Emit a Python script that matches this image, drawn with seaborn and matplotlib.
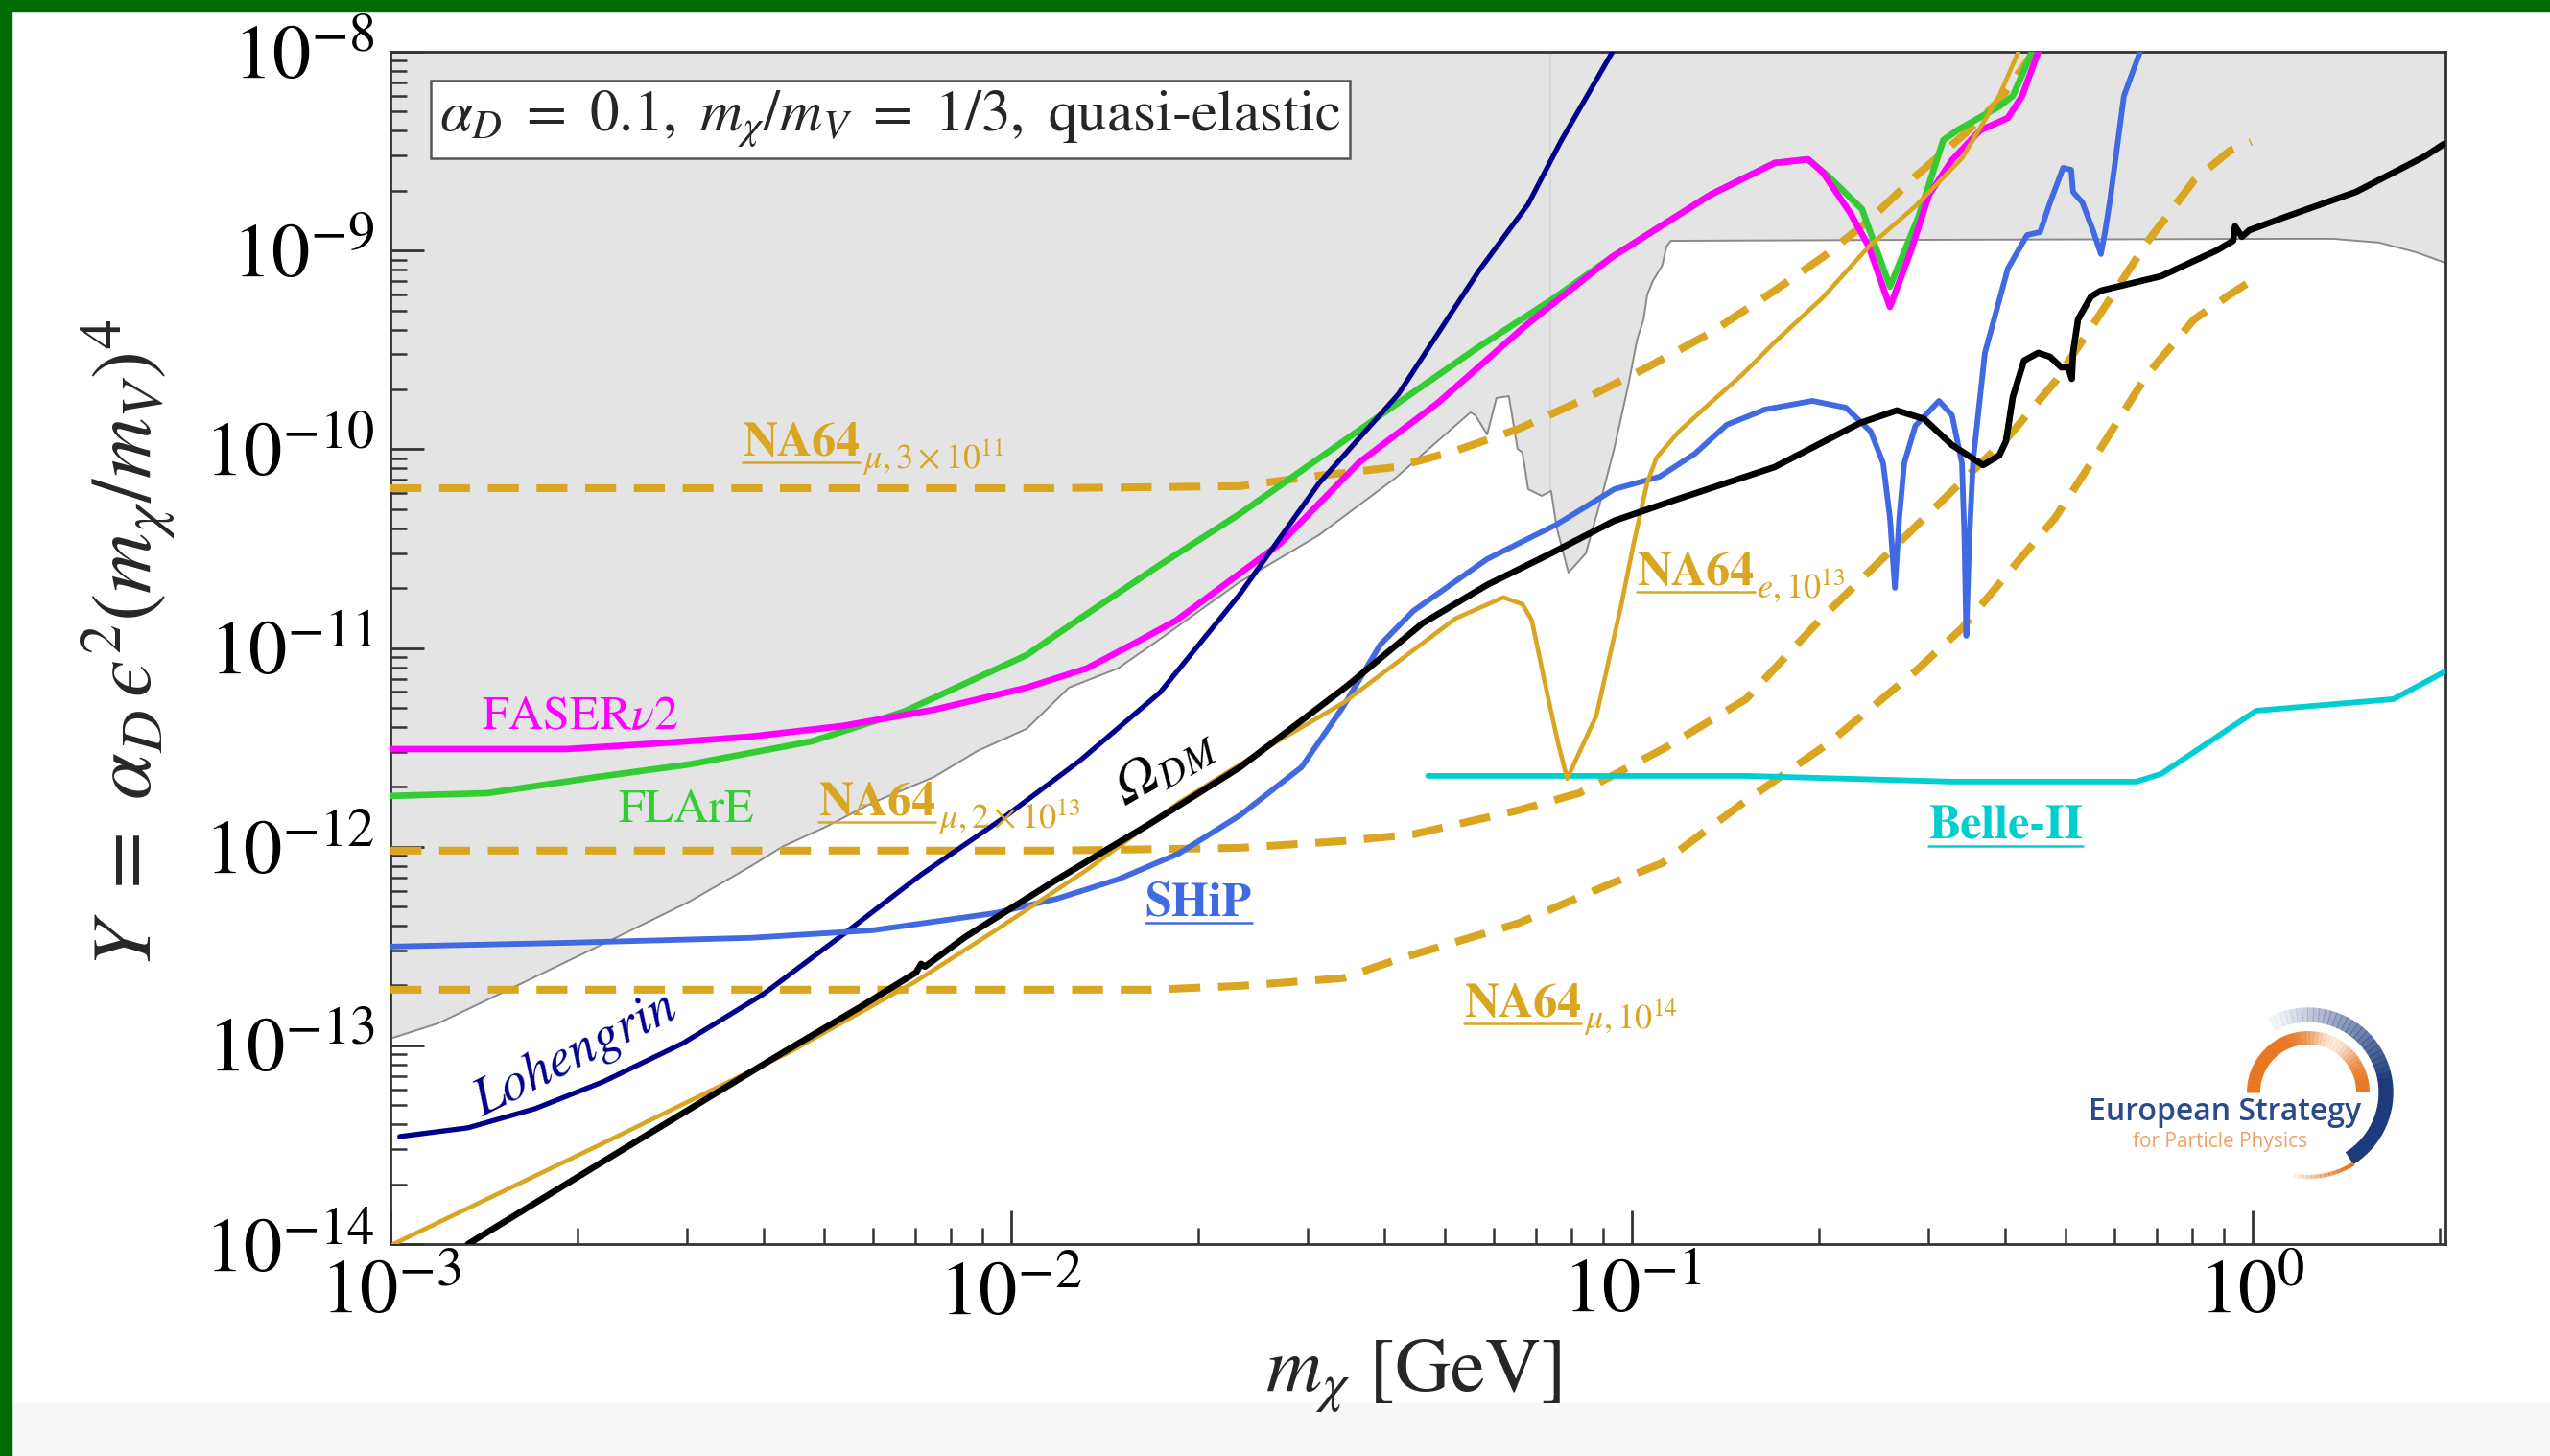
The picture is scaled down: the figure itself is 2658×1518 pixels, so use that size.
import numpy as np
import matplotlib.pyplot as plt
import matplotlib.ticker as mticker
import seaborn as sns
from matplotlib.patches import Rectangle, Arc
from matplotlib.lines import Line2D
from matplotlib.transforms import IdentityTransform

sns.set_style("ticks")
plt.rcParams['font.family'] = ['STIXGeneral', 'DejaVu Sans']
plt.rcParams['mathtext.fontset'] = 'stix'
plt.rcParams['axes.linewidth'] = 2.0
plt.rcParams['axes.edgecolor'] = '#333333'

# all curves, stored as log10(m_chi [GeV]) and log10(Y)
bound_lm = [-3.000, -2.923, -2.813, -2.666, -2.518, -2.419, -2.369, -2.301, -2.223, -2.124, -2.054, -1.975,
            -1.907, -1.828, -1.768, -1.632, -1.504, -1.380, -1.260, -1.252, -1.233, -1.218, -1.198, -1.184,
            -1.176, -1.167, -1.145, -1.130, -1.121, -1.102, -1.074, -1.048, -1.028, -1.006, -0.991, -0.981,
            -0.975, -0.966, -0.951, -0.944, -0.937, -0.538, 0.054, 0.130, 0.204, 0.264, 0.311]
bound_lY = [-12.966, -12.889, -12.725, -12.503, -12.276, -12.098, -12.001, -11.904, -11.779, -11.649, -11.518,
            -11.407, -11.200, -11.103, -10.973, -10.669, -10.432, -10.143, -9.815, -9.829, -9.926, -9.742,
            -9.733, -9.998, -10.017, -10.201, -10.235, -10.210, -10.394, -10.621, -10.524, -10.235, -9.993,
            -9.684, -9.443, -9.347, -9.221, -9.153, -9.076, -8.980, -8.951, -8.946, -8.941, -8.941, -8.960,
            -9.009, -9.062]
edge_m = 0.074
edge_Y = 6.2e-11

faser_lm = [-3.000, -2.716, -2.567, -2.419, -2.272, -2.124, -1.975, -1.878, -1.799, -1.734, -1.567, -1.439,
            -1.312, -1.170, -1.032, -0.873, -0.770, -0.716, -0.692, -0.648, -0.618, -0.584, -0.550, -0.521,
            -0.484, -0.439, -0.394, -0.371, -0.345]
faser_lY = [-11.509, -11.509, -11.480, -11.446, -11.393, -11.311, -11.200, -11.103, -10.973, -10.862, -10.476,
            -10.066, -9.766, -9.375, -9.033, -8.719, -8.560, -8.541, -8.608, -8.811, -8.980, -9.284, -8.999,
            -8.719, -8.545, -8.396, -8.333, -8.222, -8.000]

flare_lm = [-3.000, -2.844, -2.666, -2.518, -2.321, -2.173, -2.065, -1.975, -1.889, -1.760, -1.632, -1.504,
            -1.376, -1.247, -1.130, -1.032, -0.873, -0.770, -0.716, -0.683, -0.629, -0.584, -0.538, -0.498,
            -0.476, -0.408, -0.386, -0.355]
flare_lY = [-11.745, -11.731, -11.649, -11.586, -11.470, -11.321, -11.166, -11.036, -10.852, -10.582, -10.326,
            -10.046, -9.766, -9.486, -9.250, -9.033, -8.719, -8.560, -8.541, -8.627, -8.792, -9.182, -8.830,
            -8.444, -8.396, -8.275, -8.222, -8.000]

loh_lm = [-2.985, -2.875, -2.767, -2.657, -2.529, -2.400, -2.274, -2.145, -2.017, -1.889, -1.760, -1.632,
          -1.504, -1.376, -1.247, -1.167, -1.114, -1.031]
loh_lY = [-13.459, -13.415, -13.319, -13.183, -12.990, -12.744, -12.450, -12.141, -11.866, -11.567, -11.224,
          -10.732, -10.172, -9.723, -9.105, -8.767, -8.449, -8.000]

ship_lm = [-3.000, -2.716, -2.419, -2.223, -2.025, -1.926, -1.828, -1.730, -1.631, -1.532, -1.465, -1.405,
           -1.352, -1.233, -1.121, -1.028, -0.955, -0.898, -0.847, -0.785, -0.709, -0.655, -0.615, -0.595,
           -0.584, -0.576, -0.569, -0.561, -0.543, -0.505, -0.484, -0.468, -0.464, -0.461, -0.456, -0.450,
           -0.431, -0.394, -0.363, -0.342, -0.326, -0.305, -0.292, -0.289, -0.274, -0.257, -0.244, -0.237,
           -0.229, -0.207, -0.181]
ship_lY = [-12.503, -12.484, -12.459, -12.421, -12.334, -12.262, -12.165, -12.035, -11.842, -11.600, -11.296,
           -10.983, -10.814, -10.553, -10.379, -10.201, -10.138, -10.022, -9.877, -9.800, -9.757, -9.791,
           -9.911, -10.070, -10.346, -10.698, -10.346, -10.070, -9.882, -9.757, -9.829, -10.070, -10.442,
           -10.939, -10.442, -10.056, -9.515, -9.091, -8.922, -8.907, -8.758, -8.584, -8.594, -8.705, -8.758,
           -8.898, -9.018, -8.898, -8.738, -8.222, -8.000]

relic_lm = [-2.875, -2.657, -2.369, -2.243, -2.153, -2.145, -2.139, -2.074, -1.926, -1.779, -1.631, -1.458,
            -1.337, -1.233, -1.130, -1.028, -0.924, -0.770, -0.683, -0.632, -0.573, -0.529, -0.484, -0.434,
            -0.408, -0.397, -0.386, -0.368, -0.345, -0.326, -0.308, -0.297, -0.291, -0.289, -0.281, -0.260,
            -0.244, -0.147, -0.057, -0.031, -0.028, -0.017, -0.005, 0.054, 0.167, 0.278, 0.309]
relic_lY = [-14.000, -13.584, -13.039, -12.807, -12.633, -12.590, -12.604, -12.455, -12.165, -11.890, -11.600,
            -11.190, -10.876, -10.683, -10.524, -10.360, -10.249, -10.090, -9.950, -9.868, -9.805, -9.848,
            -9.979, -10.080, -10.032, -9.959, -9.737, -9.554, -9.515, -9.535, -9.588, -9.588, -9.646, -9.515,
            -9.347, -9.231, -9.202, -9.129, -8.999, -8.951, -8.878, -8.931, -8.898, -8.830, -8.705, -8.526,
            -8.463]

na64e_lm = [-2.995, -2.657, -2.360, -2.153, -2.025, -1.878, -1.730, -1.581, -1.465, -1.284, -1.207, -1.176,
            -1.161, -1.138, -1.119, -1.104, -1.057, -1.017, -0.997, -0.975, -0.960, -0.924, -0.873, -0.821,
            -0.770, -0.692, -0.618, -0.543, -0.468, -0.408, -0.377]
na64e_lY = [-14.000, -13.492, -13.039, -12.677, -12.421, -12.117, -11.779, -11.489, -11.277, -10.852, -10.746,
            -10.780, -10.862, -11.205, -11.475, -11.658, -11.340, -10.785, -10.476, -10.167, -10.042, -9.911,
            -9.766, -9.622, -9.462, -9.236, -8.980, -8.777, -8.536, -8.222, -8.000]

mu3e11_lm = [-3.000, -1.929, -1.632, -1.504, -1.380, -1.284, -1.182, -1.079, -0.975, -0.873, -0.770, -0.692,
             -0.618, -0.543, -0.468, -0.408, -0.352]
mu3e11_lY = [-10.196, -10.196, -10.186, -10.133, -10.090, -10.008, -9.897, -9.752, -9.588, -9.414, -9.202,
             -9.033, -8.849, -8.627, -8.425, -8.246, -8.000]

mu2e13_lm = [-3.000, -1.929, -1.631, -1.465, -1.352, -1.184, -1.085, -0.947, -0.816, -0.692, -0.595, -0.468,
             -0.394, -0.318, -0.244, -0.170, -0.094, -0.036, -0.002]
mu2e13_lY = [-12.020, -12.020, -12.006, -11.972, -11.938, -11.818, -11.731, -11.504, -11.258, -10.843, -10.548,
             -10.162, -9.940, -9.660, -9.313, -8.960, -8.647, -8.497, -8.454]

mu1e14_lm = [-3.000, -1.774, -1.632, -1.465, -1.376, -1.184, -1.032, -0.951, -0.816, -0.683, -0.543, -0.468,
             -0.394, -0.318, -0.244, -0.170, -0.094, -0.036, -0.002]
mu1e14_lY = [-12.720, -12.720, -12.701, -12.662, -12.566, -12.387, -12.184, -12.083, -11.769, -11.480, -11.118,
             -10.901, -10.625, -10.346, -9.993, -9.626, -9.347, -9.221, -9.153]

belle_lm = [-1.328, -0.816, -0.482, -0.187, -0.147, 0.006, 0.227, 0.311]
belle_lY = [-11.644, -11.644, -11.673, -11.673, -11.634, -11.316, -11.258, -11.118]

x_decades = [-3, -2, -1, 0]
y_decades = [-14, -13, -12, -11, -10, -9, -8]

GOLD = '#DAA520'
DASH = [4.0, 2.3]

fig = plt.figure(figsize=(26.58, 15.18), dpi=100)
ax = fig.add_axes([407/2658, 221/1518, 2142/2658, 1243/1518])
ax.set_xscale('log')
ax.set_yscale('log')
ax.set_axisbelow(False)


def curve(lm, lY, color, lw, dashes=None, z=3):
    sns.lineplot(x=10**np.array(lm), y=10**np.array(lY), color=color, linewidth=lw,
                 sort=False, estimator=None, ax=ax, zorder=z)
    ln = ax.lines[-1]
    if dashes is not None:
        ln.set_dashes(dashes)
    return ln


# excluded region
ax.fill_between(10**np.array(bound_lm), 10**np.array(bound_lY), 1e-7, color='#e4e4e4', lw=0, zorder=0.2)
ax.plot([edge_m, edge_m], [edge_Y, 1e-7], color='#d2d2d2', lw=1.2, zorder=0.3)
curve(bound_lm, bound_lY, '#8a8a8a', 1.4, z=2)

curve(mu3e11_lm, mu3e11_lY, GOLD, 5.8, DASH, z=3)
curve(mu2e13_lm, mu2e13_lY, GOLD, 5.8, DASH, z=3)
curve(mu1e14_lm, mu1e14_lY, GOLD, 5.8, DASH, z=3)
curve(belle_lm, belle_lY, '#00CED1', 4.2, z=4)
curve(flare_lm, flare_lY, '#33CC33', 4.8, z=4)
curve(faser_lm, faser_lY, '#FF00FF', 4.8, z=4.5)
curve(loh_lm, loh_lY, '#00008B', 3.8, z=5)
curve(ship_lm, ship_lY, '#4169E1', 4.2, z=5)
curve(na64e_lm, na64e_lY, GOLD, 3.3, z=5.5)
curve(relic_lm, relic_lY, 'black', 4.8, z=6)

ax.set_xlim(1e-3, 10**0.311)
ax.set_ylim(1e-14, 1e-8)

xminor = [k*10.0**d for d in x_decades for k in range(2, 10) if k*10.0**d <= 2.0]
yminor = [k*10.0**d for d in y_decades[:-1] for k in range(2, 10)]
ax.xaxis.set_major_locator(mticker.FixedLocator([10.0**d for d in x_decades]))
ax.yaxis.set_major_locator(mticker.FixedLocator([10.0**d for d in y_decades]))
ax.xaxis.set_minor_locator(mticker.FixedLocator(xminor))
ax.yaxis.set_minor_locator(mticker.FixedLocator(yminor))
for axis in [ax.xaxis, ax.yaxis]:
    axis.set_major_formatter(mticker.LogFormatterSciNotation())
    axis.set_minor_formatter(mticker.NullFormatter())
    axis.set_zorder(2.6)
ax.tick_params(which='both', direction='in', top=False, right=False, labelcolor='black')
ax.tick_params(which='major', length=25, width=2.0, labelsize=58, pad=12)
ax.tick_params(which='minor', length=12, width=1.8)
ax.tick_params(axis='x', which='both', color='#333333')
ax.tick_params(axis='y', which='both', left=True, color='#333333')

ax.set_xlabel(r"$m_\chi$ [GeV]", fontsize=58)
ax.xaxis.set_label_coords(0.4977, -0.078)
ax.set_ylabel(r"$Y\ =\ \alpha_D\,ϵ^2(m_\chi/m_V)^4$", fontsize=63)
ax.yaxis.set_label_coords(-0.103, 0.504)

ax.text(0.0238, 0.9433, r"$\alpha_D\ =\ 0.1,\ m_\chi/m_V\ =\ 1/3,$ quasi-elastic", transform=ax.transAxes,
        fontsize=44, ha='left', va='center', zorder=10,
        bbox=dict(boxstyle='square,pad=0.15', fc='white', ec='#555555', lw=1.8))

under = []


def tag(mx, my, main, sub, color, bold=True, underline=True, size=36):
    t = ax.text(mx, my, main, color=color, fontsize=size, fontweight='bold' if bold else 'normal',
                ha='left', va='baseline', zorder=8)
    if sub:
        ax.annotate(sub, xy=(1, 0), xycoords=t, xytext=(2, -2), textcoords='offset points',
                    color=color, fontsize=26, ha='left', va='baseline', zorder=8)
    if underline:
        under.append(t)
    return t


tag(3.69e-3, 9.29e-11, 'NA64', r'$\mu,3\times10^{11}$', GOLD)
tag(4.89e-3, 1.44e-12, 'NA64', r'$\mu,2\times10^{13}$', GOLD)
tag(0.102, 2.07e-11, 'NA64', r'$e,10^{13}$', GOLD)
tag(0.0537, 1.40e-13, 'NA64', r'$\mu,10^{14}$', GOLD)
tag(0.01644, 4.49e-13, 'SHiP', None, '#4169E1')
tag(0.3008, 1.09e-12, 'Belle-II', None, '#00CED1')
tag(1.40e-3, 3.92e-12, r'FASER$\nu$2', None, '#FF00FF', bold=False, underline=False)
tag(2.33e-3, 1.33e-12, 'FLArE', None, '#33CC33', bold=False, underline=False)
ax.text(1.99e-3, 8.95e-14, 'Lohengrin', color='#00008B', fontsize=40, style='italic', rotation=27,
        rotation_mode='anchor', ha='center', va='center', zorder=8)
ax.text(0.01774, 2.51e-12, r'Ω$_{DM}$', color='black', fontsize=42, style='italic', rotation=30,
        rotation_mode='anchor', ha='center', va='center', zorder=8)

# logo
fig.text(2177/2658, 350/1518, 'European Strategy', fontsize=23, color='#2a4a8a', family='Open Sans',
         fontweight='semibold', ha='left', va='baseline')
fig.text(2223/2658, 322/1518, 'for Particle Physics', fontsize=15, color='#f2a06a', family='Open Sans',
         ha='left', va='baseline')
cx, cy = 24.06, 3.79
for th in np.arange(0, 180, 4):
    a = 1 - 0.85*np.exp(-((th + 2 - 62)/28.0)**2)
    fig.add_artist(Arc((cx, cy), 1.14, 1.14, theta1=th, theta2=th + 4.5, edgecolor='#E87722',
                       lw=10, alpha=a, transform=fig.dpi_scale_trans))
for th in np.arange(-58, 116, 4):
    a = float(np.clip((116 - th)/110.0, 0.06, 1))
    fig.add_artist(Arc((cx, cy), 1.62, 1.62, theta1=th, theta2=th + 4.5, edgecolor='#1d3a7a',
                       lw=11, alpha=a, transform=fig.dpi_scale_trans))
for th in np.arange(-100, -58, 3):
    a = float(np.clip((th + 104)/40.0, 0.1, 1))
    fig.add_artist(Arc((cx, cy), 1.76, 1.76, theta1=th, theta2=th + 3.5, edgecolor='#E87722',
                       lw=3, alpha=a, transform=fig.dpi_scale_trans))

# frame of the slide
fig.add_artist(Rectangle((0, 0), 1, 55/1518, transform=fig.transFigure, color='#f8f8f8', zorder=-1))
fig.add_artist(Rectangle((0, 1 - 12/1518), 1, 12/1518, transform=fig.transFigure, color='#036b03', zorder=10))
fig.add_artist(Rectangle((0, 0), 12/2658, 1, transform=fig.transFigure, color='#036b03', zorder=10))

# underline the experiment names
fig.canvas.draw()
for t in under:
    bb = t.get_window_extent()
    base = ax.transData.transform(t.get_position())[1]
    fig.add_artist(Line2D([bb.x0, bb.x1], [base - 7, base - 7], transform=IdentityTransform(),
                          color=t.get_color(), lw=1.8, zorder=9))

fig.savefig('out.png', dpi=100)
